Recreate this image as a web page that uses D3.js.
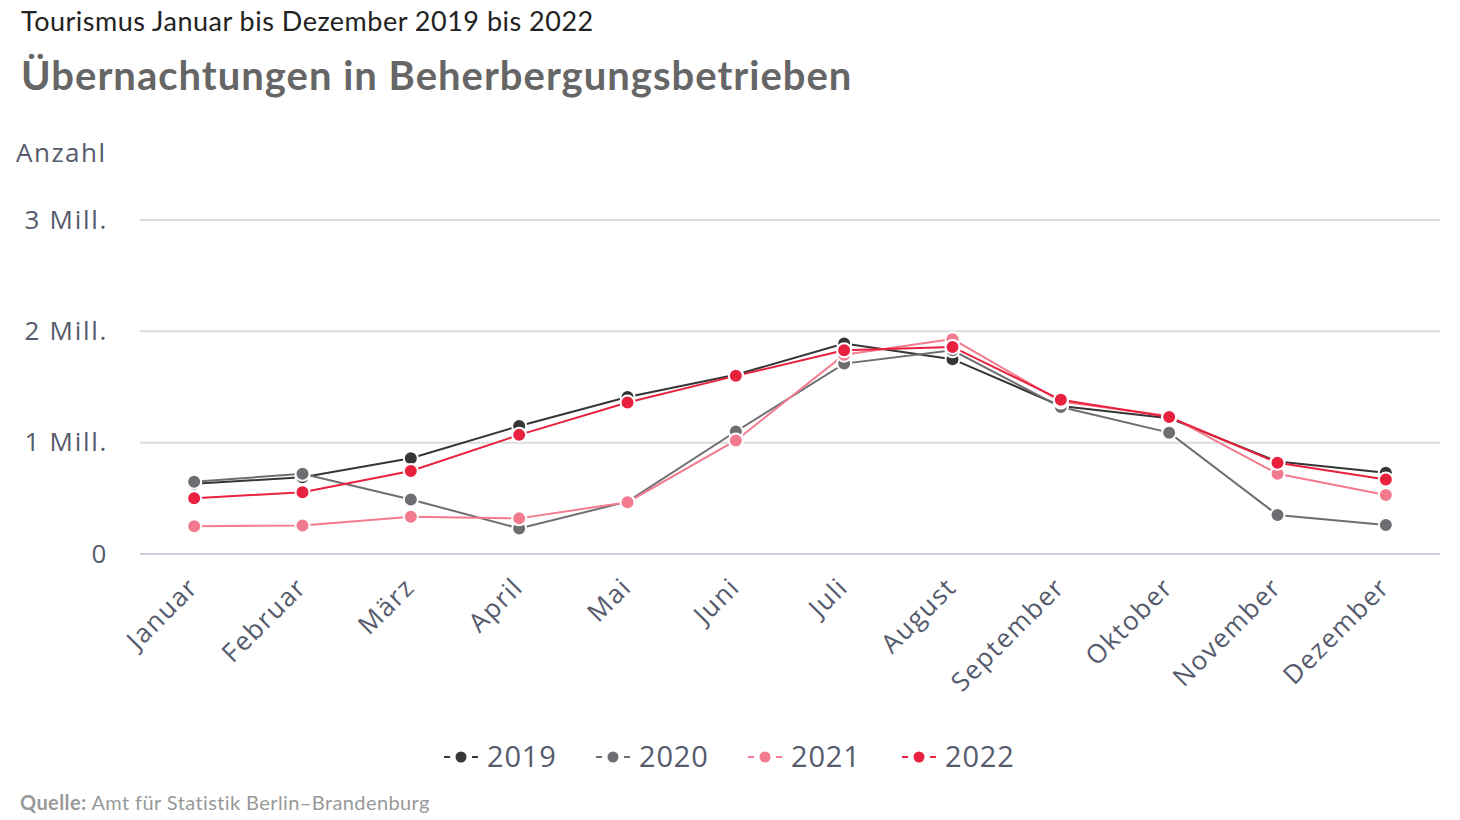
<!DOCTYPE html>
<html>
<head>
<meta charset="utf-8">
<script src="https://cdn.jsdelivr.net/npm/d3@7"></script>
<style>
  body { margin: 0; background: #fff; }
  text { font-family: "Open Sans", sans-serif; }
</style>
</head>
<body>
<div id="chart"></div>
<script>
var width = 1460,
    height = 820;
var margin = { top: 220, right: 20, bottom: 266, left: 140 };

var months = ["Januar","Februar","März","April","Mai","Juni","Juli","August","September","Oktober","November","Dezember"];
var years = ["2019","2020","2021","2022"];
var v2019 = [0.63, 0.69, 0.86, 1.15, 1.41, 1.61, 1.89, 1.75, 1.33, 1.22, 0.83, 0.73];
var v2020 = [0.65, 0.72, 0.49, 0.23, 0.47, 1.10, 1.71, 1.83, 1.32, 1.09, 0.35, 0.26];
var v2021 = [0.25, 0.255, 0.335, 0.32, 0.465, 1.02, 1.79, 1.93, 1.37, 1.24, 0.72, 0.53];
var v2022 = [0.50, 0.555, 0.745, 1.07, 1.36, 1.60, 1.83, 1.86, 1.385, 1.23, 0.82, 0.67];
var yTicks = [0, 1, 2, 3];
var yTickLabels = ["0", "1 Mill.", "2 Mill.", "3 Mill."];

var series = [v2019, v2020, v2021, v2022];
var color = ["#363636", "#6e6e72", "#f27b8f", "#e8213f"];

var svg = d3.select("#chart").append("svg")
    .attr("width", width)
    .attr("height", height);

// titles
svg.append("text")
    .attr("x", 21).attr("y", 31)
    .style("font-family", "Lato, sans-serif")
    .style("font-size", "27px")
    .style("letter-spacing", "0.5px")
    .style("fill", "#222")
    .text("Tourismus Januar bis Dezember 2019 bis 2022");

svg.append("text")
    .attr("x", 21).attr("y", 90)
    .style("font-family", "Lato, sans-serif")
    .style("font-weight", "bold")
    .style("font-size", "40px")
    .style("letter-spacing", "1px")
    .style("fill", "#666")
    .text("Übernachtungen in Beherbergungsbetrieben");

svg.append("text")
    .attr("x", 16).attr("y", 162)
    .style("font-size", "26px")
    .style("letter-spacing", "1.5px")
    .style("fill", "#555a6c")
    .text("Anzahl");

var x = d3.scalePoint()
    .domain(months)
    .range([margin.left, width - margin.right])
    .padding(0.5);

var y = d3.scaleLinear()
    .domain([0, 3])
    .range([554, margin.top]);

// grid
var grid = svg.append("g").attr("class", "grid");
grid.selectAll("line")
    .data(yTicks)
    .enter().append("line")
    .attr("x1", margin.left)
    .attr("x2", width - margin.right)
    .attr("y1", function(d) { return y(d); })
    .attr("y2", function(d) { return y(d); })
    .attr("stroke", function(d) { return d == 0 ? "#ccd0de" : "#dcdcdc"; })
    .attr("stroke-width", 2);

// y axis labels
var yAxis = d3.axisLeft(y)
    .tickValues(yTicks)
    .tickSize(0)
    .tickPadding(0)
    .tickFormat(function(d, i) { return yTickLabels[i]; });

var gy = svg.append("g")
    .attr("transform", "translate(108,0)")
    .call(yAxis);
gy.select(".domain").remove();
gy.selectAll("text")
    .style("font-family", "'Open Sans', sans-serif")
    .style("font-size", "26px")
    .style("letter-spacing", "1.7px")
    .style("fill", "#555a6c");

// x axis labels
var xAxis = d3.axisBottom(x).tickSize(0).tickPadding(0);
var gx = svg.append("g")
    .attr("transform", "translate(0," + (y(0) + 22) + ")")
    .call(xAxis);
gx.select(".domain").remove();
gx.selectAll("text")
    .style("font-family", "'Open Sans', sans-serif")
    .style("font-size", "26px")
    .style("letter-spacing", "1.5px")
    .style("fill", "#555a6c")
    .style("text-anchor", "end")
    .attr("dy", "0.7em")
    .attr("transform", "translate(-8,0) rotate(-45)");

// lines
var line = d3.line()
    .x(function(d, i) { return x(months[i]); })
    .y(function(d) { return y(d); });

var lines = svg.append("g").attr("class", "lines");
series.forEach(function(s, k) {
    lines.append("path")
        .datum(s)
        .attr("d", line)
        .attr("fill", "none")
        .attr("stroke", color[k])
        .attr("stroke-width", 2);
});

var dots = svg.append("g").attr("class", "dots");
series.forEach(function(s, k) {
    dots.selectAll(".dot" + k)
        .data(s)
        .enter().append("circle")
        .attr("class", "dot" + k)
        .attr("cx", function(d, i) { return x(months[i]); })
        .attr("cy", function(d) { return y(d); })
        .attr("r", 7)
        .attr("fill", color[k])
        .attr("stroke", "#fff")
        .attr("stroke-width", 2);
});

// legend
var legendX = [444, 596, 748, 902];
var legend = svg.selectAll(".legend")
    .data(years)
    .enter().append("g")
    .attr("class", "legend")
    .attr("transform", function(d, i) {
        return "translate(" + legendX[i] + ",757)";
    });

legend.append("line")
    .attr("x1", 0).attr("x2", 34)
    .attr("y1", 0).attr("y2", 0)
    .attr("stroke", function(d, i) { return color[i]; })
    .attr("stroke-width", 2)
    .attr("stroke-dasharray", "6,22");

legend.append("circle")
    .attr("cx", 17).attr("cy", 0)
    .attr("r", 5.5)
    .attr("fill", function(d, i) { return color[i]; });

legend.append("text")
    .attr("x", 43)
    .attr("y", 10)
    .style("font-size", "29px")
    .style("letter-spacing", "0.8px")
    .style("fill", "#555a6c")
    .text(function(d) { return d; });

// source
var src = svg.append("text")
    .attr("x", 20).attr("y", 810)
    .style("font-family", "Lato, sans-serif")
    .style("font-size", "20px")
    .style("letter-spacing", "0.4px")
    .style("fill", "#999");
src.append("tspan").style("font-weight", "bold").text("Quelle:");
src.append("tspan").text(" Amt für Statistik Berlin–Brandenburg");
</script>
</body>
</html>
